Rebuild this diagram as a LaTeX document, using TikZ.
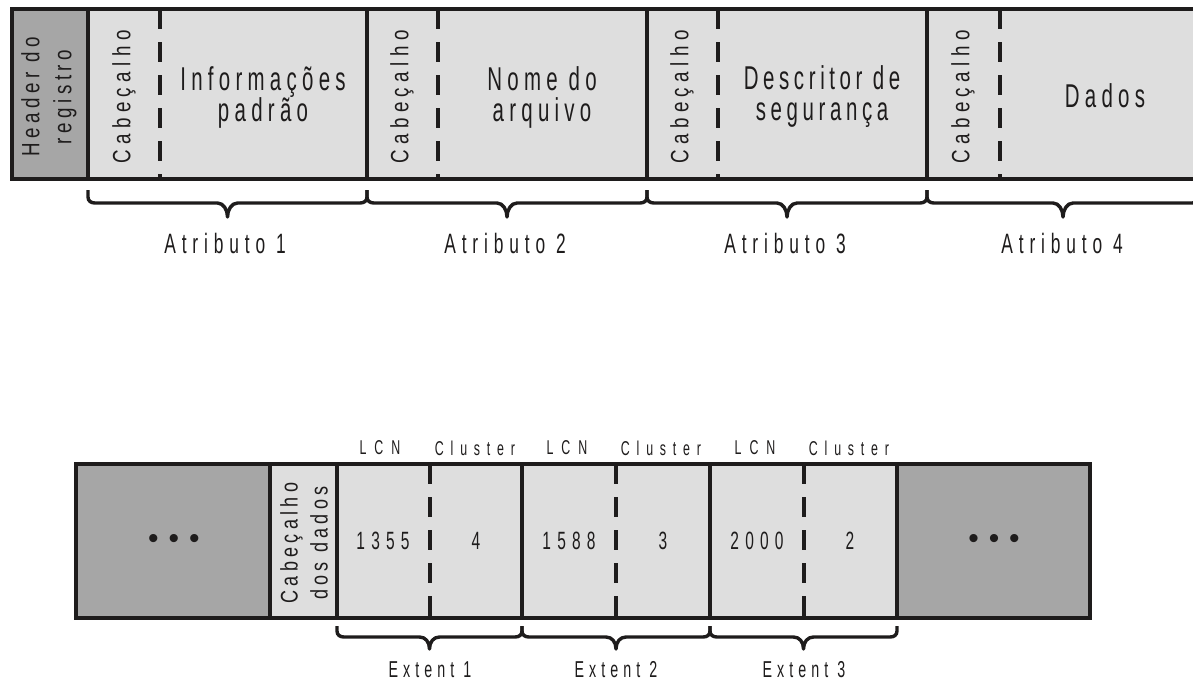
\documentclass[tikz,border=0pt]{standalone}
\usepackage{fontspec}
\setmainfont{Liberation Sans}
\newfontfamily\cf[FakeStretch=0.62]{Liberation Sans}
\newfontfamily\rf[FakeStretch=0.75]{Liberation Sans}
\usetikzlibrary{calc}
\definecolor{dk}{RGB}{166,166,166}
\definecolor{lt}{RGB}{222,222,222}
\definecolor{ink}{RGB}{30,28,28}
\newcommand\tx[3]{\fontsize{#1}{#2}\selectfont\addfontfeature{LetterSpace=#3}}
\tikzset{
  bd/.style={draw=ink,line width=3.6pt},
  sep/.style={draw=ink,line width=3.2pt},
  dsep/.style={draw=ink,line width=4.5pt,dash pattern=on 20pt off 13pt},
  brl/.style={draw=ink,line width=3.4pt,line join=round},
  txt/.style={inner sep=0pt,text=ink,align=center},
  vtxt/.style={txt,rotate=90},
  mainf/.style={font={\cf\tx{33}{31}{16}}},
  cabf/.style={font={\rf\tx{25}{30}{22}}},
  attf/.style={font={\cf\tx{28}{30}{21}}},
  valf/.style={font={\cf\tx{25}{30}{25}}},
  lcnf/.style={font={\cf\tx{20}{24}{40}}},
  cluf/.style={font={\cf\tx{20}{24}{34}}},
  extf/.style={font={\cf\tx{23}{26}{22}}},
  dotf/.style={font={\tx{30}{30}{0}}},
}
% #1 start, #2 end (named coordinates), #3 depth of flat part, #4 depth of tip
\newcommand\cbrace[4]{%
  \draw[brl] (#1) -- ($(#1)+(0,#3-6)$) .. controls +(0,4) and +(-4,0) .. ($(#1)+(7,#3)$)
    -- ($(#1)!.5!(#2)+(-10,#3)$) .. controls +(6,0) and +(0,-7) .. ($(#1)!.5!(#2)+(0,#4)$)
    .. controls +(0,-7) and +(-6,0) .. ($(#1)!.5!(#2)+(10,#3)$)
    -- ($(#2)+(-7,#3)$) .. controls +(4,0) and +(0,4) .. ($(#2)+(0,#3-6)$) -- (#2);}
\begin{document}
\begin{tikzpicture}[x=1pt,y=-1pt]
\clip (0,0) rectangle (1193,681);
\fill[white] (0,0) rectangle (1193,681);
% ---------- top record ----------
\fill[dk] (12,9) rectangle (88,179);
\fill[lt] (88,9) rectangle (1215,179);
\foreach \x in {160,438,718,1000} \draw[dsep] (\x,9) -- (\x,179);
\foreach \x in {88,367,647,927} \draw[sep] (\x,9) -- (\x,179);
\draw[bd] (1215,9) -- (12,9) -- (12,179) -- (1215,179);
\node[vtxt,font={\rf\tx{25}{32}{18}}] (hdr) at (49,97) {Header do\\registro};
\node[vtxt,cabf] (c1) at (124,97) {Cabeçalho};
\node[vtxt,cabf] (c2) at (402,97) {Cabeçalho};
\node[vtxt,cabf] (c3) at (682,97) {Cabeçalho};
\node[vtxt,cabf] (c4) at (963,97) {Cabeçalho};
\node[txt,mainf] (inf) at (263,97) {Informações\\padrão};
\node[txt,mainf] (nom) at (542,97) {Nome do\\arquivo};
\node[txt,font={\cf\tx{33}{31}{14}}] (des) at (822,97) {Descritor de\\segurança};
\node[txt,mainf] (dad) at (1105,96) {Dados};
\coordinate (t0) at (88,190);
\coordinate (t1) at (367,190);
\coordinate (t2) at (647,190);
\coordinate (t3) at (927,190);
\coordinate (t4) at (1199,190);
\cbrace{t0}{t1}{13}{27}
\cbrace{t1}{t2}{13}{27}
\cbrace{t2}{t3}{13}{27}
\cbrace{t3}{t4}{13}{27}
\node[txt,attf] (a1) at (225,243) {Atributo 1};
\node[txt,attf] (a2) at (505,243) {Atributo 2};
\node[txt,attf] (a3) at (785,243) {Atributo 3};
\node[txt,attf] (a4) at (1062,243) {Atributo 4};
% ---------- bottom record ----------
\fill[dk] (76,464) rectangle (270,618);
\fill[lt] (270,464) rectangle (897,618);
\fill[dk] (897,464) rectangle (1090,618);
\foreach \x in {430,616,804} \draw[dsep] (\x,464) -- (\x,618);
\foreach \x in {270,337,522,710,897} \draw[sep] (\x,464) -- (\x,618);
\draw[bd] (76,464) rectangle (1090,618);
\node[txt,dotf] (dl) at (174,541) {•\hspace{10pt}•\hspace{10pt}•};
\node[txt,dotf] (dr) at (994,541) {•\hspace{10pt}•\hspace{10pt}•};
\node[vtxt,font={\rf\tx{24}{30}{18}}] (cd) at (304,543) {Cabeçalho\\dos dados};
\node[txt,valf] (v1) at (383,541) {1355};
\node[txt,valf] (v2) at (476,541) {4};
\node[txt,valf] (v3) at (569,541) {1588};
\node[txt,valf] (v4) at (663,541) {3};
\node[txt,valf] (v5) at (757,541) {2000};
\node[txt,valf] (v6) at (850,541) {2};
\node[txt,lcnf] (l1) at (380,448) {LCN};
\node[txt,cluf] (k1) at (475,448) {Cluster};
\node[txt,lcnf] (l2) at (567,448) {LCN};
\node[txt,cluf] (k2) at (661,448) {Cluster};
\node[txt,lcnf] (l3) at (755,448) {LCN};
\node[txt,cluf] (k3) at (849,448) {Cluster};
\coordinate (e0) at (337,626);
\coordinate (e1) at (522,626);
\coordinate (e2) at (710,626);
\coordinate (e3) at (897,626);
\cbrace{e0}{e1}{11}{23}
\cbrace{e1}{e2}{11}{23}
\cbrace{e2}{e3}{11}{23}
\node[txt,extf] (x1) at (430,670) {Extent 1};
\node[txt,extf] (x2) at (616,670) {Extent 2};
\node[txt,extf] (x3) at (804,670) {Extent 3};
\end{tikzpicture}
\end{document}
